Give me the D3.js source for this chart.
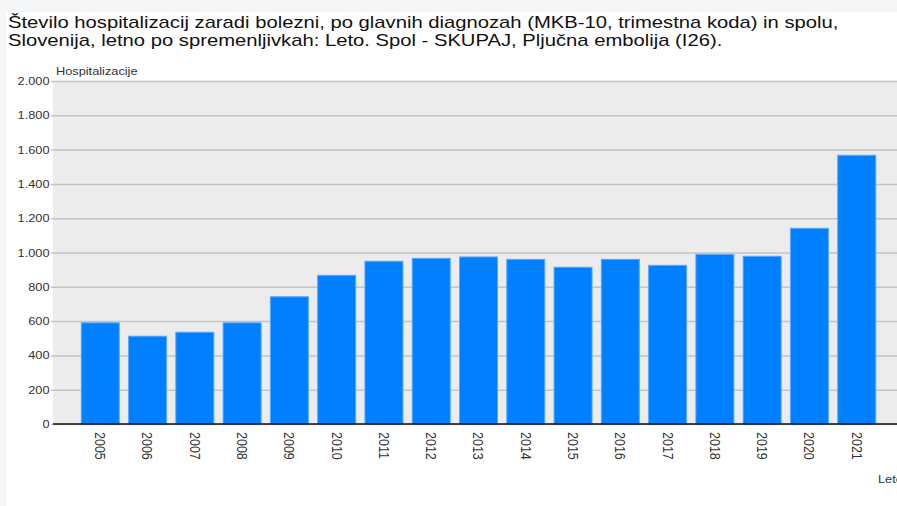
<!DOCTYPE html>
<html>
<head>
<meta charset="utf-8">
<script src="https://cdn.jsdelivr.net/npm/d3@7"></script>
<style>
  body { margin: 0; background: #f5f6f8; }
  svg { display: block; font-family: Arial, "Liberation Sans", sans-serif; }
</style>
</head>
<body>
<div id="chart"></div>
<script>
// chart data
var years = [2005, 2006, 2007, 2008, 2009, 2010, 2011, 2012, 2013, 2014, 2015, 2016, 2017, 2018, 2019, 2020, 2021];
var hospitalizations = [590, 512, 535, 590, 742, 867, 949, 966, 974, 960, 914, 960, 925, 989, 978, 1141, 1567];
var yTicks = [0, 200, 400, 600, 800, 1000, 1200, 1400, 1600, 1800, 2000];
var titleLines = [
  "Število hospitalizacij zaradi bolezni, po glavnih diagnozah (MKB-10, trimestna koda) in spolu,",
  "Slovenija, letno po spremenljivkah: Leto. Spol - SKUPAJ, Pljučna embolija (I26)."
];
var yTitle = "Hospitalizacije";
var xTitle = "Leto";

var width = 897,
  height = 506;

// text in the original looks a bit wider than Arial, stretch it horizontally
var stretch = 1.16;
var titleStretch = 1.19;

var svg = d3.select("#chart").append("svg")
  .attr("width", width)
  .attr("height", height);

// white page area (grey strip on left and top)
svg.append("rect")
  .attr("x", 6).attr("y", 12)
  .attr("width", width - 6).attr("height", height - 12)
  .attr("fill", "#ffffff");

// title
svg.append("g")
  .attr("transform", "translate(8,0) scale(" + titleStretch + ",1)")
  .selectAll("text")
  .data(titleLines)
  .enter()
  .append("text")
  .attr("x", 0)
  .attr("y", function (d, i) { return 28 + i * 18; })
  .attr("font-size", "17px")
  .attr("fill", "#111")
  .text(function (d) { return d; });

var plot = { left: 53, right: 904, top: 81, bottom: 424 };

var x = d3.scaleLinear()
  .domain([2004, 2022])
  .range([plot.left, plot.right]);

var y = d3.scaleLinear()
  .domain([0, 2000])
  .range([plot.bottom, plot.top]);

var barWidth = 38;

var locale = d3.formatLocale({ decimal: ",", thousands: ".", grouping: [3], currency: ["", "€"] });
var fmt = locale.format(",d");

// plot background
svg.append("rect")
  .attr("x", plot.left)
  .attr("y", plot.top)
  .attr("width", plot.right - plot.left)
  .attr("height", plot.bottom - plot.top)
  .attr("fill", "#ececec");

// gridlines + y labels
var yAxis = svg.append("g")
  .attr("transform", "translate(" + plot.left + ",0)")
  .call(d3.axisLeft(y).tickValues(yTicks).tickFormat(fmt).tickSize(-(plot.right - plot.left)).tickPadding(3));
yAxis.select(".domain").remove();
yAxis.selectAll(".tick line")
  .attr("stroke", "#c3c3c3")
  .attr("stroke-width", 1.5)
  .attr("x1", -2);
yAxis.selectAll(".tick text")
  .attr("font-size", "11px")
  .attr("font-family", "Arial, 'Liberation Sans', sans-serif")
  .attr("fill", "#333")
  .attr("transform", "scale(" + stretch + ",1)");

// bars
svg.append("g")
  .selectAll("rect")
  .data(years)
  .enter()
  .append("rect")
  .attr("x", function (d) { return x(d) - barWidth / 2; })
  .attr("y", function (d, i) { return y(hospitalizations[i]); })
  .attr("width", barWidth)
  .attr("height", function (d, i) { return y(0) - y(hospitalizations[i]); })
  .attr("fill", "#007fff")
  .attr("stroke", "#5aa9fb")
  .attr("stroke-width", 1);

// zero line
svg.append("line")
  .attr("x1", plot.left).attr("x2", plot.right)
  .attr("y1", y(0)).attr("y2", y(0))
  .attr("stroke", "#111")
  .attr("stroke-width", 1.5);

// x labels, rotated
svg.append("g")
  .selectAll("text")
  .data(years)
  .enter()
  .append("text")
  .attr("transform", function (d) { return "translate(" + x(d) + "," + (y(0) + 8) + ") scale(" + stretch + ",1) rotate(90)"; })
  .attr("dy", "0.35em")
  .attr("font-size", "12.5px")
  .attr("fill", "#333")
  .text(function (d) { return d; });

// axis titles
svg.append("text")
  .attr("transform", "translate(" + (plot.left + 3) + "," + (plot.top - 6) + ") scale(" + stretch + ",1)")
  .attr("font-size", "11px")
  .attr("fill", "#333")
  .text(yTitle);

// x title sits at the right edge, partly cut off as in the original
svg.append("text")
  .attr("transform", "translate(878,483) scale(" + stretch + ",1)")
  .attr("font-size", "11px")
  .attr("fill", "#333")
  .text(xTitle);
</script>
</body>
</html>
